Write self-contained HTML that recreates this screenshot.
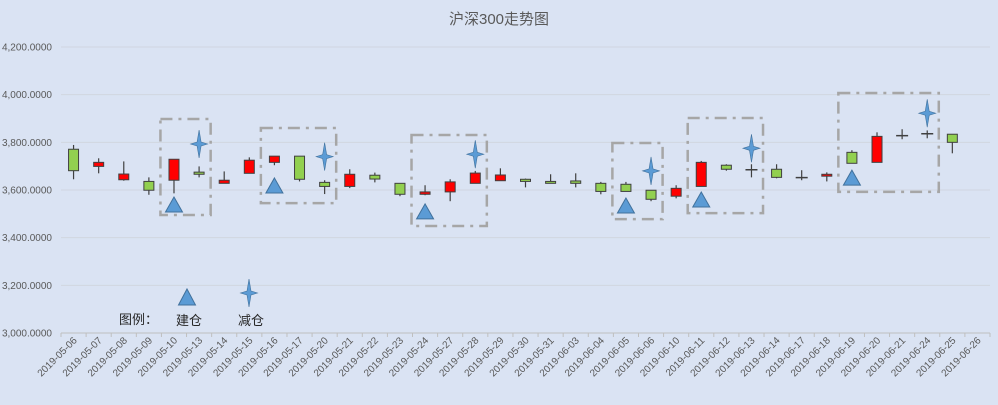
<!DOCTYPE html>
<html><head><meta charset="utf-8">
<style>
html,body{margin:0;padding:0;background:#dae3f3;}
svg{display:block;font-family:"Liberation Sans","Noto Sans CJK SC",sans-serif;}
</style></head>
<body>
<svg id="chart" width="998" height="405" viewBox="0 0 998 405" xmlns="http://www.w3.org/2000/svg">
<rect x="0" y="0" width="998" height="405" fill="#dae3f3"/>
<text x="499" y="24" text-anchor="middle" font-size="15" fill="#595959">沪深300走势图</text>
<g id="grid"></g>
<g id="yaxis"></g>
<g id="xaxis"></g>
<g id="boxes"></g>
<g id="candles"></g>
<g id="markers"></g>
<g id="legend">
  <text x="119" y="324" font-size="13" fill="#262626">图例：</text>
  <polygon points="187,289 195.5,305 178.5,305" fill="#5b9bd5" stroke="#41719c" stroke-width="1"/>
  <text x="176" y="325" font-size="13" fill="#262626">建仓</text>
  <path d="M249,279 L251,291 L257.5,293 L251,295 L249,307 L247,295 L240.5,293 L247,291 Z" fill="#5b9bd5" stroke="#41719c" stroke-width="0.6"/>
  <text x="238" y="325" font-size="13" fill="#262626">减仓</text>
</g>
</svg>
<script>
const categories=["2019-05-06","2019-05-07","2019-05-08","2019-05-09","2019-05-10","2019-05-13","2019-05-14","2019-05-15","2019-05-16","2019-05-17","2019-05-20","2019-05-21","2019-05-22","2019-05-23","2019-05-24","2019-05-27","2019-05-28","2019-05-29","2019-05-30","2019-05-31","2019-06-03","2019-06-04","2019-06-05","2019-06-06","2019-06-10","2019-06-11","2019-06-12","2019-06-13","2019-06-14","2019-06-17","2019-06-18","2019-06-19","2019-06-20","2019-06-21","2019-06-24","2019-06-25","2019-06-26"];
const openVals=[3771,3699,3643,3636,3641,3675,3628,3670,3716,3742,3632,3615,3662,3628,3582,3592,3628,3639,3645,3636,3638,3628,3624,3599,3574,3615,3704,3685,3687,3652,3658,3758,3716,3828,3836,3834,null];
const closeVals=[3681,3716,3667,3599,3729,3666,3641,3725,3742,3645,3615,3666,3646,3582,3592,3634,3671,3663,3636,3628,3628,3594,3594,3561,3607,3716,3687,3685,3653,3652,3666,3712,3825,3828,3836,3800,null];
const highVals=[3789,3733,3720,3653,3729,3699,3678,3737,3742,3742,3641,3687,3673,3628,3620,3645,3680,3691,3648,3666,3670,3634,3634,3599,3620,3722,3708,3708,3708,3683,3674,3767,3842,3855,3850,3834,null];
const lowVals=[3645,3670,3639,3580,3586,3653,3628,3670,3704,3636,3583,3608,3632,3574,3578,3553,3628,3639,3611,3628,3611,3582,3594,3553,3565,3615,3681,3653,3649,3641,3636,3712,3716,3813,3817,3754,null];
const buyIdx=[4,8,14,22,25,31];
const buyVals=[3537,3617,3508,3533,3558,3650];
const sellIdx=[5,10,16,23,27,34];
const sellVals=[3793,3740,3750,3680,3775,3922];
const boxStart=[4,8,14,22,25,31];
const boxEnd=[5,10,16,23,27,34];
const boxTop=[3898,3860,3831,3797,3902,4007];
const boxBottom=[3495,3545,3449,3478,3503,3592];
const yTicks=[3000,3200,3400,3600,3800,4000,4200];

const NS="http://www.w3.org/2000/svg";
const X0=61,X1=990,Y0=333,Y1=47,VMIN=3000,VMAX=4200;
const band=(X1-X0)/categories.length;
function xc(i){return X0+band*(i+0.5);}
function yv(v){return Y0-(v-VMIN)*(Y0-Y1)/(VMAX-VMIN);}
function mk(tag,attrs,parent){const e=document.createElementNS(NS,tag);for(const k in attrs)e.setAttribute(k,attrs[k]);parent.appendChild(e);return e;}
const grid=document.getElementById('grid'),yaxis=document.getElementById('yaxis'),xaxis=document.getElementById('xaxis');
yTicks.forEach(t=>{
  const l=mk('line',{x1:X0,x2:X1,y1:yv(t),y2:yv(t),stroke:t===VMIN?'#bfbfbf':'#d0d6e0','stroke-width':1},grid);
  
  
  const tx=mk('text',{x:52,y:yv(t)+3.5,'text-anchor':'end','font-size':'10',fill:'#595959'},yaxis);
  tx.textContent=t.toLocaleString('en-US')+'.0000';
  
  
});
for(let i=0;i<=categories.length;i++){
  const tk=mk('line',{x1:X0+band*i,x2:X0+band*i,y1:Y0,y2:Y0+4,stroke:'#bfbfbf'},xaxis);
  
  
}
categories.forEach((c,i)=>{
  const x=xc(i)+4,y=Y0+8;
  const tx=mk('text',{x:x,y:y,'text-anchor':'end','font-size':'10',fill:'#595959',transform:`rotate(-45 ${x} ${y})`},xaxis);
  tx.textContent=c;
  
  
});
const boxes=document.getElementById('boxes');
boxStart.forEach((s,k)=>{
  const x1=X0+band*s-1,x2=X0+band*(boxEnd[k]+1)-1;
  const r=mk('rect',{x:x1,y:yv(boxTop[k]),width:x2-x1,height:yv(boxBottom[k])-yv(boxTop[k]),fill:'none',stroke:'#a6a6a6','stroke-width':2.5,'stroke-dasharray':'12 6 3 6'},boxes);
  
  
});
const cg=document.getElementById('candles');
categories.forEach((c,i)=>{
  if(openVals[i]==null)return;
  const x=xc(i);
  const g=mk('g',{},cg);
  
  
  mk('line',{x1:x,x2:x,y1:yv(highVals[i]),y2:yv(lowVals[i]),stroke:'#404040','stroke-width':1.2},g);
  const o=openVals[i],cl=closeVals[i];
  const top=yv(Math.max(o,cl)),bot=yv(Math.min(o,cl));
  if(bot-top<1){
    mk('line',{x1:x-6,x2:x+6,y1:top,y2:top,stroke:'#404040','stroke-width':1.5},g);
  }else{
    mk('rect',{x:x-5,y:top,width:10,height:bot-top,fill:cl>o?'#ff0000':'#92d050',stroke:'#404040','stroke-width':1},g);
  }
});
const mg=document.getElementById('markers');
buyIdx.forEach((idx,k)=>{
  const x=xc(idx),y=yv(buyVals[k]);
  const p=mk('polygon',{points:`${x},${y-8} ${x+8.5},${y+7} ${x-8.5},${y+7}`,fill:'#5b9bd5',stroke:'#41719c','stroke-width':1},mg);
  
  
});
sellIdx.forEach((idx,k)=>{
  const x=xc(idx),y=yv(sellVals[k]);
  const p=mk('path',{d:`M${x},${y-14} L${x+2},${y-2} L${x+8.5},${y} L${x+2},${y+2} L${x},${y+14} L${x-2},${y+2} L${x-8.5},${y} L${x-2},${y-2} Z`,fill:'#5b9bd5',stroke:'#41719c','stroke-width':0.6},mg);
  
  
});
</script>
</body></html>
